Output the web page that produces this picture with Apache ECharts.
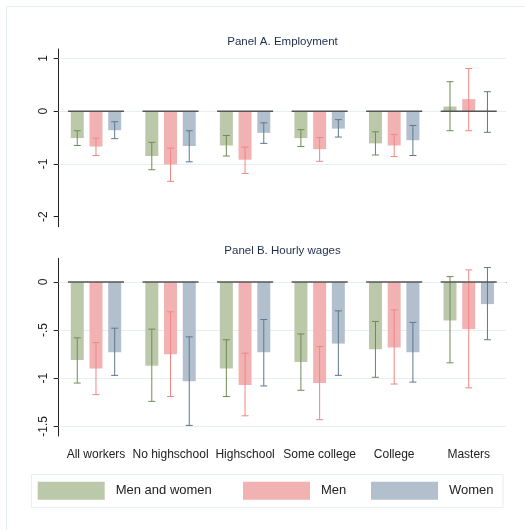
<!DOCTYPE html>
<html><head><meta charset="utf-8">
<script src="https://cdn.jsdelivr.net/npm/echarts@6/dist/echarts.min.js"></script>
<style>html,body{margin:0;padding:0;background:#fff}#c{width:525px;height:530px}</style>
</head><body><div id="c"></div>
<script>
const categories = ['All workers','No highschool','Highschool','Some college','College','Masters'];
const seriesNames = ['Men and women','Men','Women'];
const panelTitles = ['Panel A. Employment','Panel B. Hourly wages'];

// Panel A: Employment (estimate, lower CI, upper CI)
const empBoth    = [-0.51,-0.85,-0.65,-0.51,-0.61, 0.09];
const empBothLo  = [-0.65,-1.11,-0.85,-0.67,-0.83,-0.37];
const empBothHi  = [-0.37,-0.59,-0.46,-0.35,-0.39, 0.56];
const empMen     = [-0.67,-1.01,-0.92,-0.72,-0.65, 0.23];
const empMenLo   = [-0.84,-1.33,-1.18,-0.95,-0.86,-0.37];
const empMenHi   = [-0.51,-0.70,-0.68,-0.50,-0.44, 0.81];
const empWomen   = [-0.36,-0.66,-0.41,-0.33,-0.55,-0.01];
const empWomenLo = [-0.52,-0.96,-0.61,-0.49,-0.84,-0.40];
const empWomenHi = [-0.20,-0.37,-0.22,-0.16,-0.27, 0.37];

// Panel B: Hourly wages
const wageBoth    = [-0.81,-0.87,-0.90,-0.83,-0.70,-0.40];
const wageBothLo  = [-1.05,-1.24,-1.19,-1.125,-0.99,-0.84];
const wageBothHi  = [-0.58,-0.49,-0.60,-0.54,-0.41, 0.056];
const wageMen     = [-0.90,-0.75,-1.07,-1.05,-0.68,-0.49];
const wageMenLo   = [-1.17,-1.19,-1.39,-1.43,-1.06,-1.10];
const wageMenHi   = [-0.63,-0.31,-0.74,-0.67,-0.29, 0.125];
const wageWomen   = [-0.73,-1.03,-0.73,-0.64,-0.73,-0.23];
const wageWomenLo = [-0.97,-1.49,-1.08,-0.97,-1.04,-0.60];
const wageWomenHi = [-0.48,-0.57,-0.39,-0.30,-0.42, 0.15];

// Axis ticks
const empTicks = [1, 0, -1, -2];
const empTickLabels = ['1','0','-1','-2'];
const empGrid = [1, 0, -1];
const wageTicks = [0, -0.5, -1, -1.5];
const wageTickLabels = ['0','-.5','-1','-1.5'];
const wageGrid = [0, -0.5, -1, -1.5];

const FONT = "'Liberation Sans', Arial, sans-serif";
const barColors = ['#bbc9aa','#f2b2b2','#b2c0cd'];
const ciColors = ['#6f8c52','#f08686','#5d7890'];
const BAR_W = 13, BAR_GAP = 0.44;
const SPACING = BAR_W * (1 + BAR_GAP);

const chart = echarts.init(document.getElementById('c'), null, {renderer:'canvas'});

function yAxisDef(gi, min, max, ticks, labels) {
  return {
    type:'value', gridIndex: gi, min: min, max: max,
    axisLine:{show:true, lineStyle:{color:'#222', width:1}},
    axisTick:{show:true, length:5, customValues: ticks, lineStyle:{color:'#222'}},
    axisLabel:{customValues: ticks, rotate:90, margin:9, fontSize:12, color:'#222', fontFamily:FONT,
      formatter: v => { const i = ticks.findIndex(t => Math.abs(t - v) < 1e-9); return i >= 0 ? labels[i] : ''; }},
    splitLine:{show:false}
  };
}

function barSeries(gi, k, vals, grid) {
  const s = {
    type:'bar', name: seriesNames[k], xAxisIndex: gi, yAxisIndex: gi,
    data: vals, barWidth: BAR_W, barGap: (BAR_GAP*100)+'%',
    itemStyle:{color: barColors[k]}, z:2, silent:true
  };
  if (k === 0) {
    s.markLine = {silent:true, symbol:'none', z:1, label:{show:false},
      lineStyle:{color:'#e5eef0', type:'solid', width:1},
      data: grid.map(v => ({yAxis: v}))};
  }
  return s;
}

function ciSeries(gi, k, lo, hi) {
  const off = (k - 1) * SPACING;
  return {
    type:'custom', name:'ci'+gi+k, xAxisIndex: gi, yAxisIndex: gi, z:3, silent:true,
    data: lo.map((l, i) => [i, l, hi[i]]),
    renderItem: (params, api) => {
      const a = api.coord([api.value(0), api.value(1)]);
      const b = api.coord([api.value(0), api.value(2)]);
      const x = a[0] + off, cw = 3.5;
      const st = {stroke: ciColors[k], lineWidth: 1};
      return {type:'group', children:[
        {type:'line', shape:{x1:x, y1:a[1], x2:x, y2:b[1]}, style:st},
        {type:'line', shape:{x1:x-cw, y1:a[1], x2:x+cw, y2:a[1]}, style:st},
        {type:'line', shape:{x1:x-cw, y1:b[1], x2:x+cw, y2:b[1]}, style:st}
      ]};
    }
  };
}

function baseSeries(gi) {
  return {
    type:'custom', name:'base'+gi, xAxisIndex: gi, yAxisIndex: gi, z:4, silent:true,
    data: categories.map((c, i) => [i]),
    renderItem: (params, api) => {
      const p = api.coord([api.value(0), 0]);
      const half = api.size([1, 0])[0] * 0.376;
      return {type:'line', shape:{x1:p[0]-half, y1:p[1], x2:p[0]+half, y2:p[1]},
        style:{stroke:'#555', lineWidth:1.6}};
    }
  };
}

const legendPos = [37.7, 243, 371];
const option = {
  animation:false,
  backgroundColor:'#fff',
  textStyle:{fontFamily:FONT},
  grid:[
    {left:58.7, right:19, top:49, height:177.7},
    {left:58.7, right:19, top:258.3, height:177.7}
  ],
  xAxis:[
    {type:'category', gridIndex:0, data:categories, axisLine:{show:false}, axisTick:{show:false}, axisLabel:{show:false}},
    {type:'category', gridIndex:1, data:categories,
      axisLine:{show:true, lineStyle:{color:'#333', width:1}},
      axisTick:{show:true, alignWithLabel:true, length:5, lineStyle:{color:'#333'}},
      axisLabel:{fontSize:12, color:'#222', margin:13, fontFamily:FONT, interval:0}}
  ],
  yAxis:[
    yAxisDef(0, -2.19, 1.18, empTicks, empTickLabels),
    yAxisDef(1, -1.6, 0.246, wageTicks, wageTickLabels)
  ],
  legend: seriesNames.map((n, k) => ({
    left: legendPos[k], top: 481.7, padding:0, data:[n], icon:'rect',
    itemWidth:67, itemHeight:18, selectedMode:false,
    textStyle:{fontSize:13, color:'#222', fontFamily:FONT, padding:[0,0,0,6]}
  })),
  graphic:[
    {type:'rect', shape:{x:6.5, y:6.5, width:600, height:600}, style:{fill:'none', stroke:'#e6eef0', lineWidth:1}, silent:true, z:-10},
    {type:'rect', shape:{x:31.5, y:474.5, width:471.5, height:33}, style:{fill:'none', stroke:'#e6eef0', lineWidth:1}, silent:true, z:-10},
    {type:'text', x:282.5, y:41.7, style:{text:panelTitles[0], fontSize:11.5, fill:'#1f2d4d', fontFamily:FONT, textAlign:'center', textVerticalAlign:'middle'}, silent:true},
    {type:'text', x:282.5, y:250.7, style:{text:panelTitles[1], fontSize:11.5, fill:'#1f2d4d', fontFamily:FONT, textAlign:'center', textVerticalAlign:'middle'}, silent:true}
  ],
  series:[
    barSeries(0,0,empBoth,empGrid), barSeries(0,1,empMen,empGrid), barSeries(0,2,empWomen,empGrid),
    ciSeries(0,0,empBothLo,empBothHi), ciSeries(0,1,empMenLo,empMenHi), ciSeries(0,2,empWomenLo,empWomenHi),
    baseSeries(0),
    barSeries(1,0,wageBoth,wageGrid), barSeries(1,1,wageMen,wageGrid), barSeries(1,2,wageWomen,wageGrid),
    ciSeries(1,0,wageBothLo,wageBothHi), ciSeries(1,1,wageMenLo,wageMenHi), ciSeries(1,2,wageWomenLo,wageWomenHi),
    baseSeries(1)
  ]
};
chart.setOption(option);
</script>
</body></html>
